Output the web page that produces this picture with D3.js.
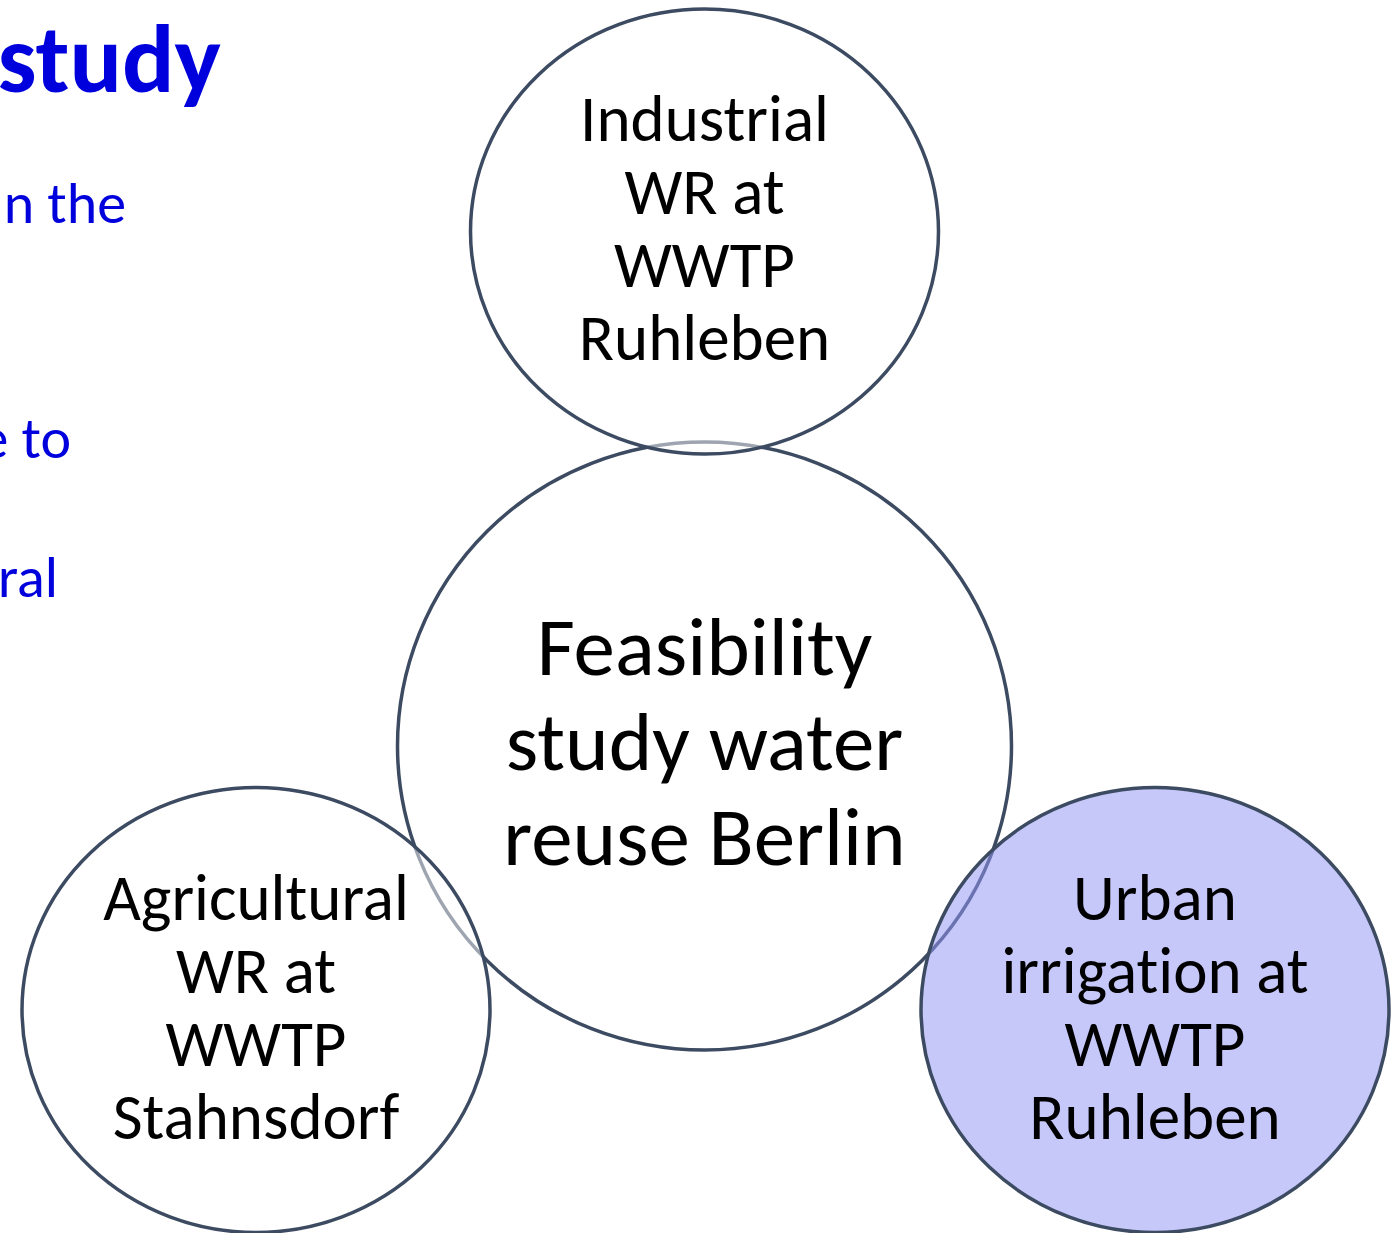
<!DOCTYPE html>
<html>
<head>
<meta charset="utf-8">
<script src="https://cdn.jsdelivr.net/npm/d3@7"></script>
<style>
  html, body { margin: 0; padding: 0; background: #fff; overflow: hidden; }
  svg { display: block; }
  text { font-variant-ligatures: none; font-feature-settings: "liga" 0, "clig" 0; }
</style>
</head>
<body>
<svg></svg>
<script>
let width = 1392
let height = 1233

// the slide text on the left, cut off by the picture edge
let sideText = ['study', 'n the', 'e to', 'ral']
let sideBold = [true, false, false, false]
let sideRow = [0, 1, 2, 3]

// circles of the diagram
let nodeNames = ['center', 'top', 'left', 'right']
let nodeLabels = [
    ['Feasibility', 'study water', 'reuse Berlin'],
    ['Industrial', 'WR at', 'WWTP', 'Ruhleben'],
    ['Agricultural', 'WR at', 'WWTP', 'Stahnsdorf'],
    ['Urban', 'irrigation at', 'WWTP', 'Ruhleben']
]
let nodeCol = ['mid', 'mid', 'left', 'right']
let nodeRow = ['mid', 'top', 'bottom', 'bottom']
let nodeSize = ['big', 'small', 'small', 'small']
let nodeHighlight = [false, false, false, true]

let svg = d3.select('svg')
    .attr('width', width)
    .attr('height', height)

let xScale = d3.scaleOrdinal()
    .domain(['left', 'mid', 'right'])
    .range([256, 704.5, 1155])

let yScale = d3.scaleOrdinal()
    .domain(['top', 'mid', 'bottom'])
    .range([231.5, 746, 1010])

let rxScale = d3.scaleOrdinal().domain(['big', 'small']).range([307, 234])
let ryScale = d3.scaleOrdinal().domain(['big', 'small']).range([304, 222.5])
let fontScale = d3.scaleOrdinal().domain(['big', 'small']).range([83, 65])
let lineScale = d3.scaleOrdinal().domain(['big', 'small']).range([95, 73])
let shiftScale = d3.scaleOrdinal().domain(['big', 'small']).range([24, 19])

// side text rows
let sideY = d3.scaleOrdinal().domain([0, 1, 2, 3]).range([92, 223, 458, 597])
let sideX = d3.scaleOrdinal().domain([0, 1, 2, 3]).range([221, 126, 71, 58])

let nodes = nodeNames.map((name, i) => {
    return {
        name: name,
        lines: nodeLabels[i],
        col: nodeCol[i],
        row: nodeRow[i],
        size: nodeSize[i],
        highlight: nodeHighlight[i]
    }
})

let drawSideText = () => {
    svg.append('g')
        .selectAll('text')
        .data(sideText)
        .enter()
        .append('text')
        .attr('x', (d, i) => sideX(sideRow[i]))
        .attr('y', (d, i) => sideY(sideRow[i]))
        .attr('text-anchor', 'end')
        .attr('font-family', 'Calibri, Carlito, Lato, sans-serif')
        .attr('font-weight', (d, i) => sideBold[i] ? 700 : 400)
        .attr('font-size', (d, i) => sideBold[i] ? 98 : 58)
        .attr('fill', '#0000dd')
        .text(d => d)
}

let drawCircles = () => {
    svg.append('g')
        .selectAll('ellipse')
        .data(nodes)
        .enter()
        .append('ellipse')
        .attr('cx', d => xScale(d.col))
        .attr('cy', d => yScale(d.row))
        .attr('rx', d => rxScale(d.size))
        .attr('ry', d => ryScale(d.size))
        .attr('fill', d => d.highlight ? '#9498f5' : '#ffffff')
        .attr('fill-opacity', d => d.highlight ? 0.53 : 0.5)
        .attr('stroke', '#3c4b61')
        .attr('stroke-width', 3.5)
}

let drawLabels = () => {
    let labels = svg.append('g')
        .selectAll('text')
        .data(nodes)
        .enter()
        .append('text')
        .attr('text-anchor', 'middle')
        .attr('font-family', 'Calibri, Carlito, Lato, sans-serif')
        .attr('font-size', d => fontScale(d.size))
        .attr('fill', '#000')

    labels.selectAll('tspan')
        .data(d => d.lines.map((line, j) => ({ line: line, j: j, node: d })))
        .enter()
        .append('tspan')
        .attr('x', d => xScale(d.node.col))
        .attr('y', d => {
            let n = d.node.lines.length
            let step = lineScale(d.node.size)
            return yScale(d.node.row) + shiftScale(d.node.size) + (d.j - (n - 1) / 2) * step
        })
        .text(d => d.line)
}

drawSideText()
drawCircles()
drawLabels()
</script>
</body>
</html>
